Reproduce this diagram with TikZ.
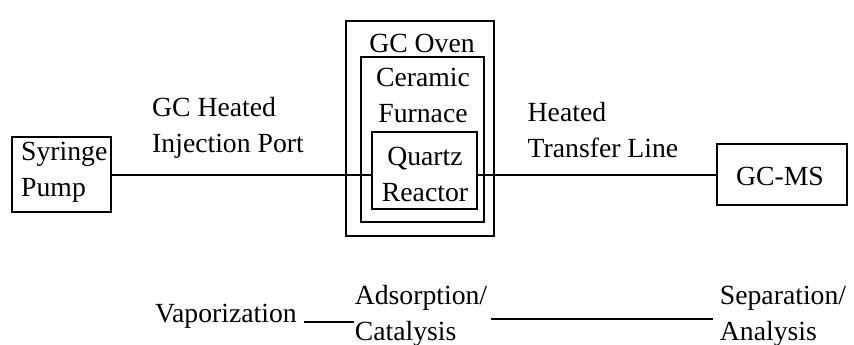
\documentclass[tikz,border=0pt]{standalone}
\usepackage{fontspec}
\setmainfont{Liberation Serif}
\begin{document}
\begin{tikzpicture}[x=1pt,y=-1pt,
  box/.style={draw=black, line width=1.8pt, rectangle, inner sep=0pt},
  txt/.style={inner sep=0pt, font=\rmfamily\fontsize{27.7}{36}\selectfont, align=center},
  txtl/.style={inner sep=0pt, font=\rmfamily\fontsize{27.7}{36}\selectfont, align=left},
  conn/.style={draw=black, line width=2pt}]
\useasboundingbox (0,0) rectangle (854,345);
\fill[white] (0,0) rectangle (854,345);
% boxes
\node[box, minimum width=99pt, minimum height=75pt] (pump) at (61.5,174.5) {};
\node[txtl, anchor=west] (pumplbl) at (21,172) {Syringe\\Pump};
\node[box, minimum width=148pt, minimum height=215pt] (oven) at (420,128.5) {};
\node[txt] (ovenlbl) at (422,43) {GC Oven};
\node[box, minimum width=123pt, minimum height=165pt] (furnace) at (422.5,139.5) {};
\node[txt] (furnlbl) at (423,95.5) {Ceramic\\Furnace};
\node[box, minimum width=105pt, minimum height=77pt] (reactor) at (424.5,170.5) {};
\node[txt] (reactlbl) at (425,174) {Quartz\\Reactor};
\node[box, minimum width=130pt, minimum height=61pt] (gcms) at (782,174.5) {};
\node[txt] (gcmslbl) at (780,176) {GC-MS};
% labels
\node[txtl] (inj) at (228,128) {GC Heated\\Injection Port};
\node[txtl] (htl) at (603,130) {Heated\\Transfer Line};
% connectors
\draw[conn] (pump.east) -- (reactor.west |- pump.east);
\draw[conn] (reactor.east |- gcms.west) -- (gcms.west);
% bottom row
\node[txt] (vap) at (226,316) {Vaporization};
\node[txtl] (ads) at (421,316) {Adsorption/\\Catalysis};
\node[txtl] (sep) at (783,316) {Separation/\\Analysis};
\draw[conn] ([xshift=7pt,yshift=-6pt]vap.east) -- ([xshift=-1pt,yshift=-6pt]ads.west);
\draw[conn] ([xshift=4pt,yshift=-3pt]ads.east) -- ([xshift=-7pt,yshift=-3pt]sep.west);
\end{tikzpicture}
\end{document}
